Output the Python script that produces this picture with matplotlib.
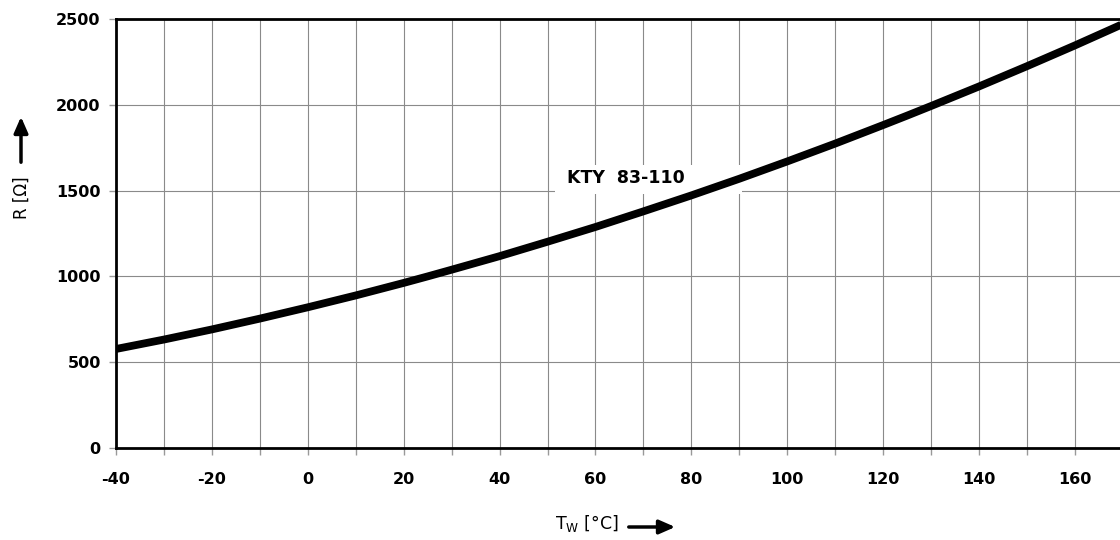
import matplotlib
matplotlib.use("Agg")
import matplotlib.pyplot as plt
import matplotlib.patches as mpatches
import numpy as np

temps = [-40, -30, -20, -10, 0, 10, 20, 25, 30, 40, 50, 60, 70, 80, 90, 100,
         110, 120, 125, 130, 140, 150, 160, 170, 175]
resist = [577, 632, 691, 754, 820, 889, 962, 1000, 1039, 1118, 1202, 1288, 1379,
          1472, 1569, 1670, 1774, 1882, 1937, 1993, 2107, 2225, 2346, 2471, 2535]
xticks = [-40, -20, 0, 20, 40, 60, 80, 100, 120, 140, 160]
yticks = [0, 500, 1000, 1500, 2000, 2500]
series_label = "KTY  83-110"

plt.rcParams['font.family'] = ['DejaVu Sans']
fig = plt.figure(figsize=(11.2, 5.4), dpi=100)
ax = fig.add_axes([116/1120, 1 - 448/540, 1 - 116/1120 + 0.02, (448 - 19)/540])

ax.set_xlim(-40, 169.4 + (0.02 * 1120) / 4.795)
ax.set_ylim(0, 2500)

minor_x = np.arange(-40, 180, 10)
ax.set_xticks(minor_x)
ax.set_xticklabels([str(t) if t in xticks else "" for t in minor_x],
                   fontsize=11.5, fontweight='bold')
ax.set_yticks(yticks)
ax.set_yticklabels([str(v) for v in yticks], fontsize=11.5, fontweight='bold')
ax.tick_params(axis='both', direction='out', length=5, width=1, color='#999999', pad=6)
ax.tick_params(axis='x', pad=12)

ax.grid(True, color='#8a8a8a', linewidth=0.8)
ax.set_axisbelow(True)

for s in ['left', 'bottom', 'top']:
    ax.spines[s].set_linewidth(2)
    ax.spines[s].set_color('black')
ax.spines['right'].set_visible(False)

ax.add_patch(mpatches.Rectangle((51.5, 1480), 39.0, 170, facecolor='white',
                                edgecolor='none', zorder=2))
ax.plot(temps, resist, color='black', linewidth=5.6, solid_capstyle='butt', zorder=3)

ax.text(54, 1575, series_label, fontsize=12.5, fontweight='bold', ha='left', va='center',
        zorder=4)

# Y label with arrow
fig.text(22/1120, 1 - 198/540, "R [Ω]", rotation=90, ha='center', va='center', fontsize=12)
fig.add_artist(mpatches.FancyArrowPatch(
    (21/1120, 1 - 165/540), (21/1120, 1 - 114/540), transform=fig.transFigure,
    arrowstyle='-|>,head_length=0.8,head_width=0.35', mutation_scale=12,
    color='black', linewidth=2.5))

# X label with arrow
fig.text(555/1120, 1 - 523/540, "T$_\\mathregular{W}$ [°C]", ha='left', va='center', fontsize=12.5)
fig.add_artist(mpatches.FancyArrowPatch(
    (626/1120, 1 - 527/540), (678/1120, 1 - 527/540), transform=fig.transFigure,
    arrowstyle='-|>,head_length=0.8,head_width=0.35', mutation_scale=12,
    color='black', linewidth=2.5))

fig.savefig("out.png", dpi=100)
